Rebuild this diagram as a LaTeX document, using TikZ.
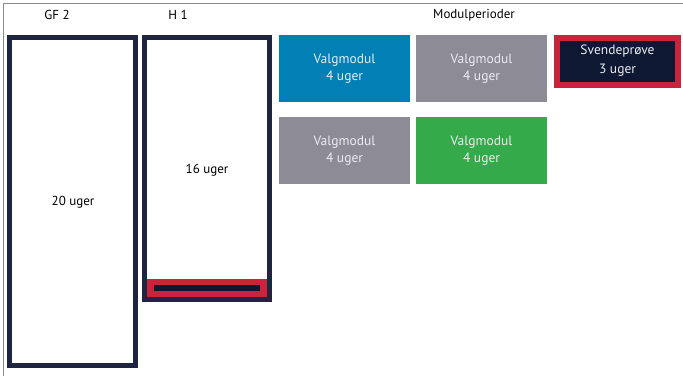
\documentclass[tikz,border=0pt]{standalone}
\usepackage{fontspec}
\setmainfont{PT Sans}
\definecolor{navy}{HTML}{1E2540}
\definecolor{mblue}{HTML}{0180B5}
\definecolor{mgrey}{HTML}{8C8B96}
\definecolor{mgreen}{HTML}{34AA4A}
\definecolor{mred}{HTML}{C9243B}
\definecolor{sdark}{HTML}{0E1833}
\definecolor{txtw}{HTML}{ECECF2}
\definecolor{frame}{HTML}{8A8A8A}
\tikzset{
  period/.style={draw=navy,line width=5pt,fill=white},
  modbox/.style={rectangle,minimum width=131pt,minimum height=67pt,inner sep=0pt,align=center,text=txtw,font=\fontsize{13.5}{17}\selectfont},
  lbl/.style={font=\fontsize{13}{17}\selectfont,text=black,inner sep=0pt}
}
\begin{document}
\begin{tikzpicture}[x=1pt,y=-1pt]
\useasboundingbox (0,0) rectangle (683,376);
\fill[white] (0,0) rectangle (683,376);
% outer frame lines
\draw[frame,line width=1pt] (3.5,376) -- (3.5,3.5) -- (683,3.5);
% headings
\node[lbl] (hgf) at (57,15) {GF 2};
\node[lbl] (hh) at (178,15) {H 1};
\node[lbl] (hmod) at (474,15) {Modulperioder};
% GF2
\draw[period] (9.5,37.5) rectangle (135.5,365.5);
\node[lbl] (gf) at (73,202) {20 uger};
% H1
\draw[period] (144.5,37.5) rectangle (269.5,299.5);
\fill[mred] (147,279) rectangle (267,297);
\fill[sdark] (154,285) rectangle (260,291);
\node[lbl] (h1) at (207,170) {16 uger};
% modules
\node[modbox,fill=mblue] (m1) at (344.5,68.5) {Valgmodul\\4 uger};
\node[modbox,fill=mgrey] (m2) at (481.5,68.5) {Valgmodul\\4 uger};
\node[modbox,fill=mgrey] (m3) at (344.5,150.5) {Valgmodul\\4 uger};
\node[modbox,fill=mgreen] (m4) at (481.5,150.5) {Valgmodul\\4 uger};
% Svendeprove
\draw[draw=mred,line width=6pt,fill=sdark] (557,38) rectangle (678,84.5);
\node[lbl,text=txtw,align=center,font=\fontsize{13.5}{19}\selectfont] (sv) at (617.5,61) {Svendeprøve\\3 uger};
\end{tikzpicture}
\end{document}
